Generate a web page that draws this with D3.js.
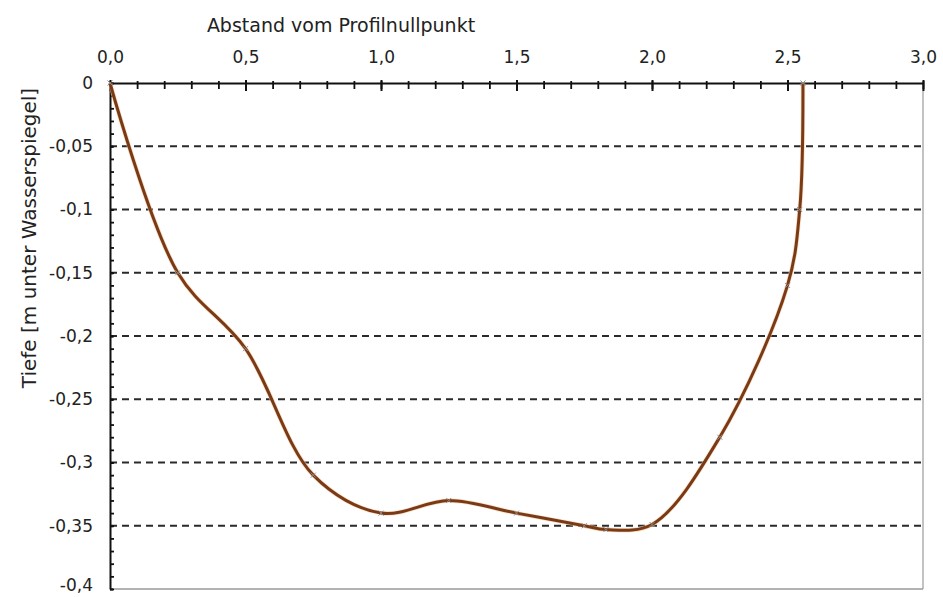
<!DOCTYPE html>
<html>
<head>
<meta charset="utf-8">
<script src="https://cdn.jsdelivr.net/npm/d3@7"></script>
<style>
  body { margin: 0; background: #fff; }
  svg { display: block; font-family: 'DejaVu Sans', sans-serif; }
</style>
</head>
<body>
<svg id="chart"></svg>
<script>
// Profilpunkte: Abstand [m] und Tiefe [m unter Wasserspiegel]
const distance = [0, 0.25, 0.5, 0.75, 1.0, 1.25, 1.5, 1.75, 1.83, 2.0, 2.25, 2.5, 2.545, 2.557];
const depth = [0, -0.15, -0.21, -0.31, -0.34, -0.33, -0.34, -0.35, -0.353, -0.349, -0.28, -0.16, -0.1, 0];

const xTicks = [0, 0.5, 1.0, 1.5, 2.0, 2.5, 3.0];
const xTickLabels = ['0,0', '0,5', '1,0', '1,5', '2,0', '2,5', '3,0'];
const yTicks = [0, -0.05, -0.1, -0.15, -0.2, -0.25, -0.3, -0.35, -0.4];
const yTickLabels = ['0', '-0,05', '-0,1', '-0,15', '-0,2', '-0,25', '-0,3', '-0,35', '-0,4'];

const width = 943;
const height = 597;
const margin = { top: 83, right: 20, bottom: 8, left: 110 };
const innerW = width - margin.left - margin.right;
const innerH = height - margin.top - margin.bottom;

const svg = d3.select('#chart')
  .attr('width', width)
  .attr('height', height);

const g = svg.append('g')
  .attr('transform', `translate(${margin.left},${margin.top})`);

const x = d3.scaleLinear().domain([0, 3]).range([0, innerW]);
const y = d3.scaleLinear().domain([0, -0.4]).range([0, innerH]);

// Rahmen rechts und unten
g.append('line')
  .attr('x1', innerW).attr('x2', innerW)
  .attr('y1', 0).attr('y2', innerH)
  .attr('stroke', '#9a9a9a').attr('stroke-width', 1.2);
g.append('line')
  .attr('x1', 0).attr('x2', innerW)
  .attr('y1', innerH).attr('y2', innerH)
  .attr('stroke', '#9a9a9a').attr('stroke-width', 1.5);

// gestrichelte Gitterlinien
g.append('g')
  .selectAll('line')
  .data(yTicks.slice(1, -1))
  .enter().append('line')
  .attr('x1', 0).attr('x2', innerW)
  .attr('y1', d => y(d)).attr('y2', d => y(d))
  .attr('stroke', '#2a2a2a')
  .attr('stroke-width', 2.2)
  .attr('stroke-dasharray', '7,5');

// Nebenteilstriche
g.append('g')
  .call(d3.axisTop(x).ticks(30).tickSize(-6).tickFormat(''))
  .call(a => a.select('.domain').remove())
  .selectAll('line').attr('y1', -2).attr('stroke', '#111').attr('stroke-width', 1.8);

g.append('g')
  .call(d3.axisLeft(y).ticks(40).tickSize(-4).tickFormat(''))
  .call(a => a.select('.domain').remove())
  .selectAll('line').attr('stroke', '#111').attr('stroke-width', 1.8);

// Hauptachsen
const xAxis = g.append('g')
  .attr('class', 'axis axis--x')
  .call(d3.axisTop(x).tickValues(xTicks).tickFormat((d, i) => xTickLabels[i])
    .tickSizeInner(-8).tickSizeOuter(0).tickPadding(20));
xAxis.select('.domain').attr('stroke', '#111').attr('stroke-width', 2);
xAxis.selectAll('line').attr('y1', -3).attr('stroke', '#111').attr('stroke-width', 2);
xAxis.selectAll('text')
  .attr('font-size', 17)
  .attr('font-family', 'DejaVu Sans, sans-serif')
  .attr('fill', '#222');

const yAxis = g.append('g')
  .attr('class', 'axis axis--y')
  .call(d3.axisLeft(y).tickValues(yTicks).tickFormat((d, i) => yTickLabels[i])
    .tickSizeInner(8).tickSizeOuter(0).tickPadding(9));
yAxis.select('.domain').attr('stroke', '#111').attr('stroke-width', 2);
yAxis.selectAll('line').attr('x2', 3).attr('stroke', '#111').attr('stroke-width', 2);
yAxis.selectAll('text')
  .attr('font-size', 17)
  .attr('font-family', 'DejaVu Sans, sans-serif')
  .attr('fill', '#222');
// unterste Beschriftung etwas anheben, damit sie nicht abgeschnitten wird
yAxis.selectAll('text').filter(d => d === -0.4).attr('dy', '0.1em');

// Achsentitel
svg.append('text')
  .attr('x', 341)
  .attr('y', 32)
  .attr('text-anchor', 'middle')
  .attr('font-size', 19)
  .attr('fill', '#222')
  .text('Abstand vom Profilnullpunkt');

svg.append('text')
  .attr('transform', 'translate(36,238) rotate(-90)')
  .attr('text-anchor', 'middle')
  .attr('font-size', 20)
  .attr('fill', '#222')
  .text('Tiefe [m unter Wasserspiegel]');

// Profillinie
const points = distance.map((d, i) => [d, depth[i]]);
const line = d3.line()
  .x(d => x(d[0]))
  .y(d => y(d[1]))
  .curve(d3.curveCatmullRom.alpha(0.5));

g.append('path')
  .datum(points)
  .attr('fill', 'none')
  .attr('stroke', '#f3c9a0')
  .attr('stroke-width', 4.5)
  .attr('stroke-opacity', 0.6)
  .attr('d', line);

g.append('path')
  .datum(points)
  .attr('fill', 'none')
  .attr('stroke', '#7a3a16')
  .attr('stroke-width', 3)
  .attr('d', line);

// Messpunkte
g.append('g')
  .selectAll('path')
  .data(points)
  .enter().append('path')
  .attr('transform', d => `translate(${x(d[0])},${y(d[1])})`)
  .attr('d', 'M-2.5,-2.5L2.5,2.5M-2.5,2.5L2.5,-2.5')
  .attr('stroke', '#8a8a8a')
  .attr('stroke-width', 1);
</script>
</body>
</html>
